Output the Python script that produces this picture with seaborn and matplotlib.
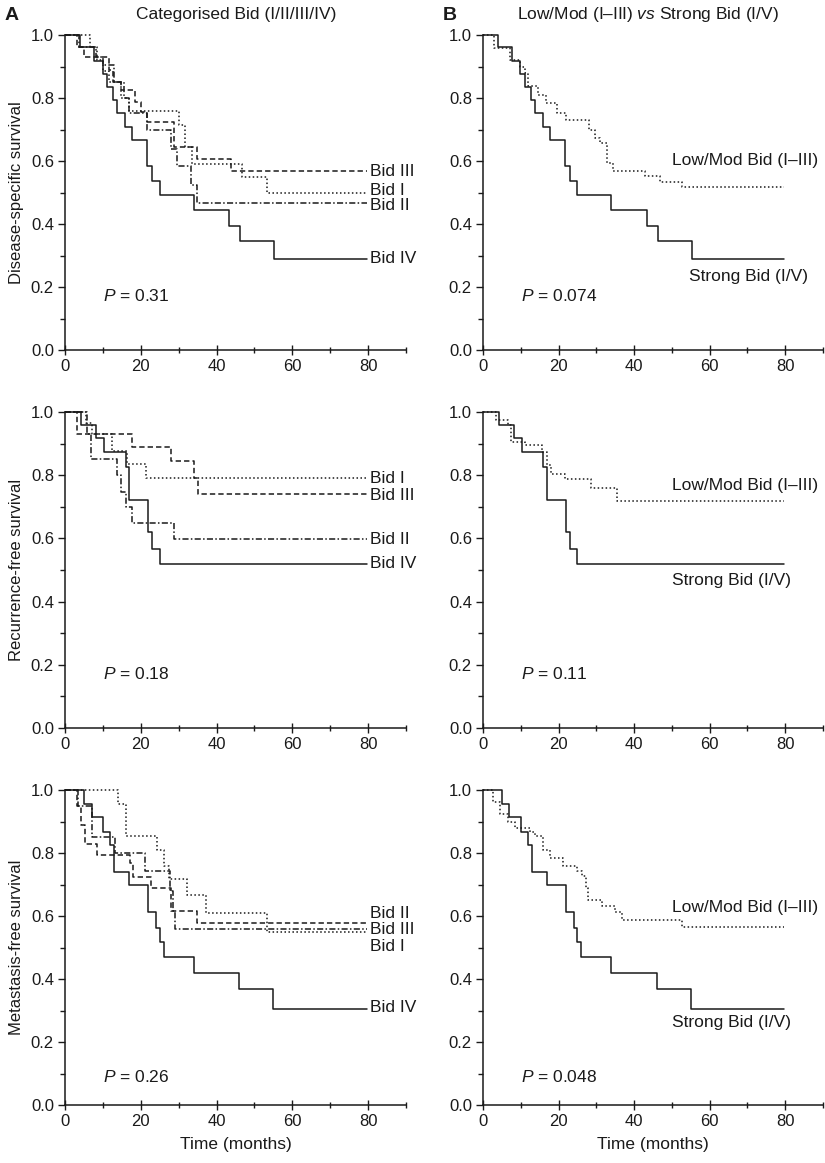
import numpy as np
import pandas as pd
import matplotlib
matplotlib.use("Agg")
import matplotlib.pyplot as plt
import seaborn as sns

# ---- data ----
end_time = 79.6

# Row 1: disease-specific survival
dss_bid1_t = [6.6, 8.5, 10.0, 11.6, 14.7, 16.9, 30.1, 31.8, 33.6, 46.8, 53.2]
dss_bid1_s = [0.962, 0.92, 0.886, 0.852, 0.80, 0.759, 0.715, 0.646, 0.59, 0.548, 0.50]
dss_bid2_t = [3.7, 8.1, 9.9, 12.9, 15.5, 16.9, 21.7, 27.9, 29.6, 33.2, 34.9]
dss_bid2_s = [0.962, 0.93, 0.904, 0.852, 0.80, 0.752, 0.70, 0.639, 0.583, 0.523, 0.467]
dss_bid3_t = [3.1, 5.0, 11.6, 12.8, 14.7, 18.6, 20.0, 21.7, 28.8, 34.9, 43.7]
dss_bid3_s = [0.962, 0.93, 0.89, 0.852, 0.825, 0.788, 0.757, 0.723, 0.646, 0.607, 0.569]
dss_bid4_t = [3.9, 7.6, 9.9, 11.2, 12.8, 13.8, 15.8, 17.8, 21.7, 23.0, 25.0, 34.0, 43.3, 46.2, 55.2]
dss_bid4_s = [0.962, 0.918, 0.877, 0.836, 0.794, 0.752, 0.709, 0.667, 0.583, 0.536, 0.492, 0.443, 0.395, 0.347, 0.29]
dss_low_t = [2.8, 7.1, 9.7, 11.1, 12.0, 14.6, 16.8, 19.5, 22.1, 28.0, 29.6, 31.0, 32.7, 34.5, 43.0, 46.9, 52.6]
dss_low_s = [0.958, 0.921, 0.90, 0.879, 0.837, 0.811, 0.784, 0.753, 0.729, 0.70, 0.674, 0.658, 0.595, 0.568, 0.553, 0.532, 0.516]

# Row 2: recurrence-free survival
rfs_bid1_t = [5.5, 7.0, 12.3, 16.3, 21.4]
rfs_bid1_s = [0.965, 0.93, 0.877, 0.835, 0.79]
rfs_bid2_t = [5.9, 6.8, 13.8, 14.9, 16.0, 17.8, 28.8]
rfs_bid2_s = [0.93, 0.85, 0.80, 0.747, 0.70, 0.65, 0.597]
rfs_bid3_t = [3.2, 17.8, 28.0, 34.0, 35.0]
rfs_bid3_s = [0.93, 0.888, 0.845, 0.79, 0.74]
rfs_bid4_t = [4.2, 8.2, 10.2, 16.0, 17.0, 22.0, 23.0, 25.0]
rfs_bid4_s = [0.958, 0.918, 0.874, 0.826, 0.721, 0.619, 0.568, 0.518]
rfs_low_t = [3.5, 6.5, 7.5, 11.0, 15.5, 17.0, 18.1, 21.7, 28.5, 35.4]
rfs_low_s = [0.974, 0.958, 0.905, 0.895, 0.874, 0.832, 0.805, 0.789, 0.758, 0.718]

# Row 3: metastasis-free survival
mfs_bid1_t = [14.0, 16.1, 24.2, 26.1, 27.5, 32.1, 37.1, 53.2]
mfs_bid1_s = [0.955, 0.855, 0.81, 0.76, 0.717, 0.667, 0.608, 0.548]
mfs_bid2_t = [3.5, 7.0, 13.2, 21.1, 27.7, 28.4, 29.0]
mfs_bid2_s = [0.95, 0.85, 0.80, 0.742, 0.68, 0.617, 0.559]
mfs_bid3_t = [3.1, 4.2, 5.3, 8.4, 17.2, 18.0, 22.6, 28.1, 34.9]
mfs_bid3_s = [0.95, 0.89, 0.83, 0.795, 0.767, 0.725, 0.689, 0.617, 0.577]
mfs_bid4_t = [5.0, 7.0, 10.0, 12.0, 13.0, 17.0, 22.0, 24.0, 25.0, 26.0, 34.0, 46.0, 55.0]
mfs_bid4_s = [0.956, 0.914, 0.868, 0.826, 0.74, 0.698, 0.613, 0.563, 0.518, 0.47, 0.418, 0.367, 0.304]
mfs_low_t = [2.7, 4.5, 6.7, 8.5, 12.5, 13.8, 16.0, 17.8, 21.3, 24.8, 26.2, 27.3, 27.9, 31.5, 35.0, 36.8, 52.8]
mfs_low_s = [0.963, 0.925, 0.90, 0.88, 0.868, 0.853, 0.81, 0.784, 0.758, 0.742, 0.726, 0.69, 0.65, 0.632, 0.613, 0.587, 0.566]

row_ylabels = ["Disease-specific survival", "Recurrence-free survival", "Metastasis-free survival"]
p_left = ["0.31", "0.18", "0.26"]
p_right = ["0.074", "0.11", "0.048"]

# label y-positions for curve names
lab_left = [
    {"Bid III": 0.568, "Bid I": 0.507, "Bid II": 0.46, "Bid IV": 0.289},
    {"Bid I": 0.79, "Bid III": 0.735, "Bid II": 0.598, "Bid IV": 0.519},
    {"Bid II": 0.608, "Bid III": 0.556, "Bid I": 0.503, "Bid IV": 0.31},
]
lab_right = [(0.60, 0.232), (0.768, 0.468), (0.626, 0.261)]
strong_x = [54.5, 50.0, 50.0]
p_y = [0.17, 0.17, 0.09]

styles = {
    "Bid I": (0, (1, 1.6)),
    "Bid II": (0, (4, 1.5, 1, 1.5)),
    "Bid III": (0, (3.5, 2)),
    "Bid IV": "-",
}


def km(times, surv):
    t = [0.0] + list(times) + [end_time]
    s = [1.0] + list(surv) + [surv[-1]]
    return pd.DataFrame({"t": t, "s": s})


left_data = [
    {"Bid I": (dss_bid1_t, dss_bid1_s), "Bid II": (dss_bid2_t, dss_bid2_s),
     "Bid III": (dss_bid3_t, dss_bid3_s), "Bid IV": (dss_bid4_t, dss_bid4_s)},
    {"Bid I": (rfs_bid1_t, rfs_bid1_s), "Bid II": (rfs_bid2_t, rfs_bid2_s),
     "Bid III": (rfs_bid3_t, rfs_bid3_s), "Bid IV": (rfs_bid4_t, rfs_bid4_s)},
    {"Bid I": (mfs_bid1_t, mfs_bid1_s), "Bid II": (mfs_bid2_t, mfs_bid2_s),
     "Bid III": (mfs_bid3_t, mfs_bid3_s), "Bid IV": (mfs_bid4_t, mfs_bid4_s)},
]
right_data = [
    ((dss_low_t, dss_low_s), (dss_bid4_t, dss_bid4_s)),
    ((rfs_low_t, rfs_low_s), (rfs_bid4_t, rfs_bid4_s)),
    ((mfs_low_t, mfs_low_s), (mfs_bid4_t, mfs_bid4_s)),
]

sns.set_style("ticks")
fam = ["Liberation Sans Narrow", "Liberation Sans", "DejaVu Sans"]
plt.rcParams["font.family"] = fam
plt.rcParams["mathtext.fontset"] = "custom"
plt.rcParams["mathtext.it"] = "Liberation Sans:italic"
plt.rcParams["mathtext.rm"] = "Liberation Sans"

W, H = 825, 1163
fig = plt.figure(figsize=(W / 100, H / 100), dpi=100)

rows_px = [(35, 350), (412, 728), (790, 1105)]
cols_px = [(65, 406), (483, 823)]
ink = "#1a1a1a"


def make_ax(col, row):
    x0, x1 = cols_px[col]
    y0, y1 = rows_px[row]
    ax = fig.add_axes([x0 / W, 1 - y1 / H, (x1 - x0) / W, (y1 - y0) / H])
    return ax


def style_ax(ax):
    ax.set_xlim(0, 90)
    ax.set_ylim(0, 1.0)
    sns.despine(ax=ax)
    for sp in ["left", "bottom"]:
        ax.spines[sp].set_linewidth(1.1)
        ax.spines[sp].set_color(ink)
    ax.set_xticks([0, 20, 40, 60, 80])
    ax.set_xticks([10, 30, 50, 70, 90], minor=True)
    ax.set_yticks([0.0, 0.2, 0.4, 0.6, 0.8, 1.0])
    ax.set_yticks([0.1, 0.3, 0.5, 0.7, 0.9], minor=True)
    ax.set_yticklabels(["0.0", "0.2", "0.4", "0.6", "0.8", "1.0"])
    ax.tick_params(axis="x", which="major", direction="inout", length=7, width=1, labelsize=12, pad=3, colors=ink)
    ax.tick_params(axis="x", which="minor", direction="inout", length=5, width=1, colors=ink)
    ax.tick_params(axis="y", which="major", direction="out", length=5, width=1, labelsize=12, pad=3, colors=ink)
    ax.tick_params(axis="y", which="minor", direction="out", length=3.5, width=1, colors=ink)
    ax.set_xlabel("")
    ax.set_ylabel("")


for r in range(3):
    # panel A: four categories
    ax = make_ax(0, r)
    for name in ["Bid I", "Bid II", "Bid III", "Bid IV"]:
        t, s = left_data[r][name]
        df = km(t, s)
        sns.lineplot(data=df, x="t", y="s", ax=ax, estimator=None, sort=False,
                     drawstyle="steps-post", color=ink, linewidth=1.1,
                     linestyle=styles[name], clip_on=False)
    style_ax(ax)
    for name, yy in lab_left[r].items():
        ax.text(80.6, yy, name, fontsize=12.5, ha="left", va="center", color=ink)
    ax.text(10, p_y[r], r"$\mathit{P}$ = " + p_left[r], fontsize=12.5, ha="left", va="center", color=ink)
    ax.set_ylabel(row_ylabels[r], fontsize=12, color=ink)
    ax.yaxis.set_label_coords(-0.12, 0.5)
    if r == 2:
        ax.set_xlabel("Time (months)", fontsize=12.5, color=ink, labelpad=6)

    # panel B: low/mod vs strong
    ax = make_ax(1, r)
    (lt, ls), (st, ss) = right_data[r]
    sns.lineplot(data=km(lt, ls), x="t", y="s", ax=ax, estimator=None, sort=False,
                 drawstyle="steps-post", color=ink, linewidth=1.1,
                 linestyle=styles["Bid I"], clip_on=False)
    sns.lineplot(data=km(st, ss), x="t", y="s", ax=ax, estimator=None, sort=False,
                 drawstyle="steps-post", color=ink, linewidth=1.1,
                 linestyle="-", clip_on=False)
    style_ax(ax)
    ax.text(50.0, lab_right[r][0], "Low/Mod Bid (I\u2013III)", fontsize=12.5, ha="left", va="center", color=ink)
    ax.text(strong_x[r], lab_right[r][1], "Strong Bid (I/V)", fontsize=12.5, ha="left", va="center", color=ink)
    ax.text(10, p_y[r], r"$\mathit{P}$ = " + p_right[r], fontsize=12.5, ha="left", va="center", color=ink)
    if r == 2:
        ax.set_xlabel("Time (months)", fontsize=12.5, color=ink, labelpad=6)

# panel headers
fig.text(5 / W, 1 - 15 / H, "A", fontsize=14, fontweight="bold", ha="left", va="center", color=ink)
fig.text(236 / W, 1 - 15 / H, "Categorised Bid (I/II/III/IV)", fontsize=12.5, ha="center", va="center", color=ink)
fig.text(443 / W, 1 - 15 / H, "B", fontsize=14, fontweight="bold", ha="left", va="center", color=ink)
fig.text(648 / W, 1 - 15 / H, "Low/Mod (I\u2013III) $\\mathit{vs}$ Strong Bid (I/V)",
         fontsize=12.5, ha="center", va="center", color=ink)

fig.savefig("out.png", dpi=100)
